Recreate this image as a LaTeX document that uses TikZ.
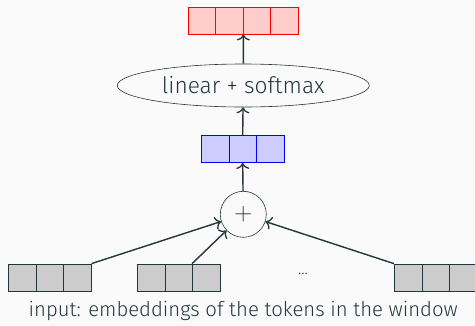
\documentclass[tikz,border=0pt]{standalone}
\usepackage{fontspec}
\setmainfont{Fira Sans}[UprightFont=* Light]
\usetikzlibrary{shapes.geometric,arrows.meta}
\definecolor{mdark}{HTML}{23373B}
\definecolor{mbg}{HTML}{FAFAFA}
\tikzset{
  cell/.style={draw, rectangle, minimum width=27.6pt, minimum height=27pt, inner sep=0pt, line width=0.8pt},
  redcell/.style={cell, draw=red, fill=red!20},
  bluecell/.style={cell, draw=blue, fill=blue!20},
  graycell/.style={cell, draw=mdark, fill=black!20},
  arr/.style={-{To[length=6pt,width=13pt,line width=1.3pt]}, draw=mdark, line width=1.4pt},
  lbl/.style={text=mdark, font=\fontsize{20.3}{24}\selectfont},
}
\begin{document}
\begin{tikzpicture}[x=1pt,y=-1pt]
\fill[mbg] (0,0) rectangle (475,325);
\useasboundingbox (0,0) rectangle (475,325);
% red output
\foreach \i in {1,...,4} {
  \node[redcell, minimum width=27.5pt] (r\i) at ({188+13.75+27.5*(\i-1)},20.5) {};
}
% ellipse
\node[ellipse, draw=mdark, line width=0.6pt, minimum width=252pt, minimum height=43pt, inner sep=0pt, lbl, font=\fontsize{22.7}{26}\selectfont] (ell) at (243.3,85.5) {linear + softmax};
% blue hidden
\foreach \i in {1,...,3} {
  \node[bluecell] (b\i) at ({201.3+13.8+27.6*(\i-1)},149) {};
}
% plus
\node[circle, draw=mdark, line width=0.6pt, minimum size=46pt, inner sep=0pt, lbl, font=\fontsize{23}{23}\selectfont] (plus) at (243.3,214.3) {$+$};
% inputs
\foreach \i in {1,...,3} {
  \node[graycell] (g1c\i) at ({8.3+13.8+27.6*(\i-1)},277.5) {};
  \node[graycell] (g2c\i) at ({137.3+13.8+27.6*(\i-1)},277.5) {};
  \node[graycell] (g3c\i) at ({394.3+13.8+27.6*(\i-1)},277.5) {};
}
\node[lbl, font=\fontsize{16}{18}\selectfont] (dots) at (303,274) {...};
\node[lbl] (cap) at (243.3,311) {input: embeddings of the tokens in the window};
% arrows
\draw[arr] (g1c3.north east) -- (plus);
\draw[arr] (g2c3.north west) -- (plus);
\draw[arr] (g3c1.north west) -- (plus);
\draw[arr] (plus) -- (b2.south);
\draw[arr] (b2.north) -- (ell);
\draw[arr] (ell) -- (r2.south east);
\end{tikzpicture}
\end{document}
